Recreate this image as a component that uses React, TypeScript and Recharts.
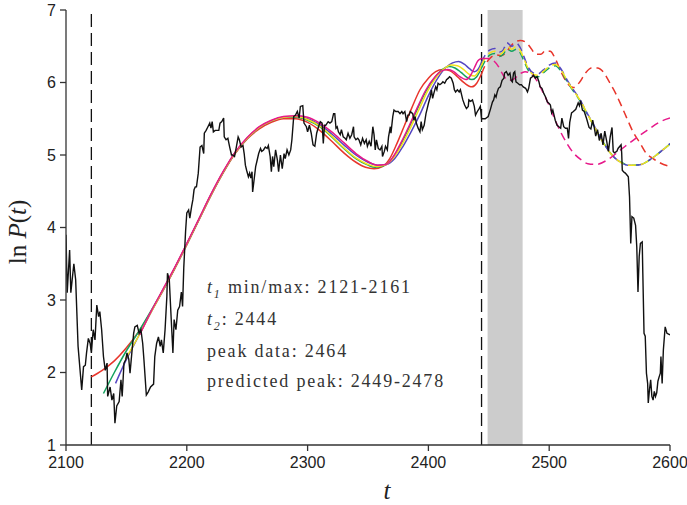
import React from 'react';
import { ComposedChart, Line, XAxis, YAxis, ReferenceLine, ReferenceArea } from 'recharts';

type Pt = [number, number];

const xTicks = [2100, 2200, 2300, 2400, 2500, 2600];
const yTicks = [1, 2, 3, 4, 5, 6, 7];
const t1Min = 2121;
const t2 = 2444;
const predictedPeak = [2449, 2478];

// ln P(t)
const priceData: Pt[] = [
  [2100, 3.9], [2101, 3.1], [2103, 3.69], [2104, 3.1], [2106.5, 3.5], [2108, 3.28], [2110, 2.36], [2113, 1.76],
  [2114.5, 2.08], [2116, 2.1], [2117, 2.27], [2118.5, 2.47], [2120, 2.4], [2121, 2.27], [2122.5, 2.59], [2124, 2.45],
  [2125.5, 2.93], [2127, 2.77], [2128, 2.84], [2129.5, 2.59], [2131, 2.22], [2132.5, 2.03], [2134, 2.13], [2134.5, 1.67],
  [2136.5, 1.8], [2138, 1.62], [2139.5, 1.71], [2140.5, 1.3], [2142, 1.54], [2144, 1.6], [2145.5, 1.9], [2146.5, 1.67],
  [2148, 2.13], [2149.5, 2.18], [2150.5, 2.27], [2152, 2.18], [2153, 1.99], [2154.5, 2.27], [2156, 2.54], [2157, 2.63],
  [2159, 2.65], [2160.5, 2.54], [2162, 2.59], [2163.5, 2.4], [2164.5, 2.18], [2166.5, 1.69], [2168, 1.73], [2170, 1.8],
  [2172.5, 1.84], [2173.5, 2.22], [2175, 2.4], [2176.5, 2.49], [2178, 2.36], [2179, 2.45], [2180.5, 2.27], [2182, 2.59],
  [2183.5, 3.05], [2184, 3.37], [2185.5, 3.28], [2187, 2.77], [2188.5, 2.27], [2189.5, 2.73], [2191, 2.59], [2192.5, 2.86],
  [2194, 2.91], [2195.5, 3.11], [2196.5, 2.91], [2197.5, 3.45], [2199, 3.95], [2200, 4.2], [2201.5, 4.24], [2202.5, 4.13],
  [2204, 4.29], [2205, 4.38], [2206, 4.52], [2207, 4.56], [2208, 4.56], [2209.5, 4.75], [2211, 5.11], [2212.5, 5.13],
  [2214, 5.02], [2214.5, 5.3], [2216, 5.34], [2217.5, 5.39], [2219, 5.44], [2220, 5.37], [2221, 5.46], [2222, 5.32],
  [2223.5, 5.34], [2225, 5.34], [2226.5, 5.34], [2227.5, 5.44], [2229, 5.46], [2230.5, 5.51], [2231, 5.25], [2232.5, 5.21],
  [2234, 5.23], [2235.5, 5.11], [2237, 5.0], [2238, 5.0], [2239.5, 4.98], [2241, 5.11], [2242.5, 5.25], [2243.5, 5.21],
  [2245, 5.11], [2246.5, 5.13], [2247.5, 5.02], [2248.5, 4.86], [2249.5, 4.79], [2251, 4.7], [2252, 4.75], [2253, 4.68],
  [2254, 4.77], [2254.5, 4.49], [2256, 4.7], [2257, 4.84], [2258, 4.91], [2259.5, 5.02], [2261, 5.09], [2262, 5.05],
  [2263.5, 5.07], [2265, 5.11], [2266.5, 5.09], [2267.5, 5.13], [2269, 4.98], [2270, 4.77], [2271, 4.98], [2272, 4.84],
  [2273.5, 5.07], [2275, 4.93], [2276, 4.77], [2277.5, 5.0], [2279, 4.81], [2280.5, 5.02], [2281.5, 4.95], [2283, 5.07],
  [2284.5, 5.0], [2286, 5.07], [2287, 5.21], [2288.5, 5.53], [2290, 5.55], [2291.5, 5.6], [2293, 5.51], [2294, 5.67],
  [2296, 5.68], [2297, 5.44], [2299, 5.39], [2300, 5.32], [2301.5, 5.41], [2303, 5.3], [2304.5, 5.14], [2306, 5.12],
  [2307.5, 5.3], [2309, 5.39], [2310.5, 5.46], [2312, 5.44], [2313, 5.16], [2314, 5.41], [2315, 5.41], [2317, 5.46],
  [2318.5, 5.44], [2320, 5.46], [2321.5, 5.57], [2322.5, 5.57], [2323.5, 5.37], [2324.5, 5.39], [2325.5, 5.32], [2327, 5.28],
  [2328, 5.35], [2329.5, 5.25], [2331, 5.23], [2332, 5.21], [2333.5, 5.3], [2335, 5.23], [2336.5, 5.28], [2338, 5.39],
  [2338.5, 5.25], [2340, 5.21], [2341.5, 5.23], [2342.5, 5.21], [2344, 5.14], [2345.5, 5.23], [2347, 5.16], [2348.5, 5.21],
  [2349.5, 5.12], [2351, 5.19], [2352.5, 5.12], [2354, 5.39], [2355, 5.28], [2356, 5.07], [2357, 5.21], [2358.5, 5.09],
  [2360, 5.07], [2361.5, 5.12], [2362, 4.98], [2363.5, 5.05], [2364.5, 5.12], [2366, 5.07], [2367, 5.25], [2368.5, 5.39],
  [2369, 5.3], [2370.5, 5.53], [2371.5, 5.62], [2373, 5.6], [2375, 5.6], [2376.5, 5.57], [2378, 5.6], [2379, 5.57],
  [2380.5, 5.6], [2382, 5.46], [2383, 5.55], [2384, 5.55], [2385, 5.6], [2387, 5.57], [2388, 5.48], [2389, 5.53],
  [2390, 5.44], [2391.5, 5.37], [2393, 5.32], [2394, 5.46], [2395, 5.35], [2396.5, 5.41], [2398, 5.57], [2399, 5.64],
  [2400, 5.71], [2401.5, 5.8], [2402.5, 5.9], [2403.5, 5.78], [2404.5, 5.85], [2406, 5.94], [2407, 5.9], [2408, 5.99],
  [2409.5, 5.97], [2411, 5.99], [2412, 6.01], [2413.5, 5.99], [2415, 6.04], [2416.5, 6.06], [2417.5, 6.08], [2419, 6.06],
  [2420.5, 5.99], [2421.5, 5.9], [2422.5, 5.87], [2424, 5.9], [2425.5, 5.87], [2426.5, 5.9], [2427.5, 5.83], [2428.5, 5.76],
  [2430, 5.69], [2431.5, 5.64], [2433, 5.67], [2433.5, 5.76], [2435, 5.74], [2436.5, 5.76], [2438, 5.67], [2439, 5.55],
  [2440.5, 5.6], [2442, 5.64], [2443, 5.67], [2444, 5.5], [2447, 5.5], [2449.5, 5.53], [2451.5, 5.64], [2453, 5.73],
  [2454, 5.76], [2455, 5.83], [2456, 5.8], [2457, 5.87], [2458, 5.92], [2459.5, 5.94], [2461, 6.03], [2462.5, 6.06],
  [2463, 6.13], [2464.5, 6.15], [2466, 6.1], [2467.5, 6.13], [2468.5, 6.03], [2469.5, 6.01], [2470.5, 6.13], [2471.5, 6.15],
  [2472.5, 6.01], [2474, 5.99], [2475.5, 5.97], [2477, 5.97], [2478.5, 5.94], [2480.5, 5.92], [2482, 5.87], [2483, 5.92],
  [2484.5, 6.06], [2486, 6.08], [2487, 6.1], [2488.5, 6.06], [2490, 6.08], [2491.5, 6.01], [2492.5, 5.94], [2494, 5.92],
  [2495.5, 5.85], [2497, 5.8], [2498.5, 5.73], [2500, 5.71], [2501, 5.69], [2502, 5.58], [2503, 5.62], [2504, 5.55],
  [2505, 5.48], [2506.5, 5.41], [2508, 5.39], [2509.5, 5.37], [2510.5, 5.51], [2512, 5.39], [2513.5, 5.37], [2515, 5.37],
  [2516, 5.23], [2517, 5.45], [2518.5, 5.58], [2520, 5.6], [2522, 5.63], [2524, 5.72], [2525, 5.68], [2526, 5.75],
  [2527.5, 5.62], [2529, 5.6], [2531, 5.5], [2533, 5.38], [2534.5, 5.36], [2536, 5.48], [2537.5, 5.36], [2538.5, 5.26],
  [2540, 5.35], [2541.5, 5.2], [2543, 5.3], [2544.5, 5.14], [2546, 5.33], [2547.5, 5.2], [2549, 5.05], [2550.5, 5.25],
  [2552, 5.38], [2553, 5.05], [2554, 5.03], [2556, 5.05], [2557, 5.09], [2558.5, 5.12], [2559.5, 5.14], [2560, 5.03],
  [2560.5, 4.79], [2561.5, 4.77], [2563, 4.75], [2564.5, 4.72], [2565.5, 4.7], [2566.5, 4.42], [2567.5, 3.78], [2568.5, 4.15],
  [2570, 4.13], [2571.5, 4.03], [2572.5, 3.73], [2573.5, 3.11], [2574.5, 3.6], [2575.5, 3.78], [2577, 3.8], [2577.5, 3.37],
  [2578.5, 2.54], [2579.5, 2.5], [2580.5, 1.99], [2581.5, 1.85], [2582, 1.58], [2583, 1.76], [2584, 1.9], [2585, 1.67],
  [2586, 1.62], [2587, 1.74], [2588, 1.67], [2589, 1.72], [2590, 1.88], [2591, 1.94], [2592, 1.99], [2592.5, 2.22],
  [2593.5, 1.85], [2594.5, 2.31], [2596, 2.63], [2597.5, 2.54], [2600, 2.52],
];

// fitted curves, one per t1 (2121 ... 2161)
const fitRed: Pt[] = [
  [2121, 1.94], [2130, 2.03], [2140, 2.16], [2150, 2.34], [2160, 2.56], [2170, 2.83], [2180, 3.12], [2190, 3.43],
  [2200, 3.76], [2210, 4.1], [2220, 4.44], [2230, 4.75], [2240, 5.02], [2250, 5.22], [2260, 5.36], [2270, 5.45],
  [2280, 5.5], [2290, 5.5], [2300, 5.45], [2310, 5.34], [2320, 5.19], [2330, 5.03], [2340, 4.9], [2348, 4.83],
  [2355, 4.81], [2362, 4.84], [2368, 4.95], [2374, 5.16], [2380, 5.4], [2386, 5.64], [2393, 5.9], [2400, 6.06],
  [2406, 6.15], [2412, 6.18], [2418, 6.16], [2424, 6.08], [2430, 5.99], [2436, 5.94], [2440, 5.99], [2444, 6.12],
  [2448, 6.27], [2452, 6.35], [2456, 6.38], [2460, 6.37], [2464, 6.41], [2468, 6.5], [2472, 6.56], [2476, 6.58],
  [2481, 6.55], [2485, 6.47], [2489, 6.39], [2493, 6.39], [2497, 6.44], [2501, 6.43], [2505, 6.33], [2510, 6.14],
  [2515, 5.99], [2520, 5.93], [2525, 6.0], [2530, 6.13], [2535, 6.2], [2540, 6.2], [2545, 6.14], [2550, 6.0],
  [2555, 5.85], [2560, 5.67], [2565, 5.48], [2570, 5.3], [2575, 5.17], [2580, 5.03], [2586, 4.95], [2592, 4.89],
  [2600, 4.84],
];

const fitGreen: Pt[] = [
  [2131, 1.71], [2140, 2.0], [2150, 2.3], [2160, 2.56], [2170, 2.84], [2180, 3.13], [2190, 3.44], [2200, 3.77],
  [2210, 4.11], [2220, 4.45], [2230, 4.76], [2240, 5.03], [2250, 5.23], [2260, 5.38], [2270, 5.47], [2280, 5.52],
  [2290, 5.52], [2300, 5.48], [2310, 5.39], [2320, 5.25], [2330, 5.09], [2340, 4.95], [2350, 4.86], [2356, 4.83],
  [2363, 4.85], [2370, 4.95], [2377, 5.14], [2384, 5.38], [2391, 5.64], [2398, 5.88], [2405, 6.06], [2411, 6.17],
  [2417, 6.22], [2422, 6.2], [2427, 6.14], [2432, 6.07], [2436, 6.04], [2440, 6.08], [2444, 6.2], [2447, 6.3],
  [2451, 6.38], [2455, 6.4], [2459, 6.36], [2462, 6.39], [2465, 6.46], [2469, 6.43], [2473, 6.46], [2476, 6.41],
  [2479, 6.3], [2483, 6.16], [2487, 6.09], [2491, 6.08], [2495, 6.13], [2500, 6.2], [2505, 6.23], [2510, 6.15],
  [2515, 6.01], [2520, 5.88], [2525, 5.76], [2530, 5.61], [2535, 5.46], [2540, 5.31], [2545, 5.17], [2550, 5.04],
  [2555, 4.95], [2560, 4.9], [2565, 4.86], [2570, 4.86], [2576, 4.87], [2582, 4.92], [2588, 4.99], [2594, 5.07],
  [2600, 5.15],
];

const fitBlue: Pt[] = [
  [2141, 1.85], [2150, 2.18], [2160, 2.5], [2170, 2.82], [2180, 3.13], [2190, 3.44], [2200, 3.77], [2210, 4.11],
  [2220, 4.45], [2230, 4.76], [2240, 5.03], [2250, 5.23], [2260, 5.38], [2270, 5.47], [2280, 5.52], [2290, 5.53],
  [2300, 5.5], [2310, 5.42], [2320, 5.29], [2330, 5.14], [2340, 5.0], [2350, 4.9], [2358, 4.86], [2365, 4.87],
  [2372, 4.95], [2379, 5.12], [2386, 5.33], [2393, 5.56], [2400, 5.82], [2407, 6.04], [2414, 6.2], [2420, 6.27],
  [2425, 6.29], [2430, 6.25], [2434, 6.19], [2438, 6.15], [2441, 6.18], [2444, 6.28], [2447, 6.38], [2451, 6.45],
  [2455, 6.47], [2459, 6.42], [2462, 6.45], [2465, 6.55], [2469, 6.5], [2473, 6.54], [2476, 6.48], [2479, 6.36],
  [2483, 6.2], [2487, 6.13], [2491, 6.12], [2495, 6.17], [2500, 6.24], [2505, 6.27], [2510, 6.18], [2515, 6.03],
  [2520, 5.9], [2525, 5.78], [2530, 5.62], [2535, 5.47], [2540, 5.32], [2545, 5.17], [2550, 5.04], [2555, 4.95],
  [2560, 4.89], [2565, 4.86], [2570, 4.86], [2576, 4.87], [2582, 4.92], [2588, 4.99], [2594, 5.07], [2600, 5.16],
];

const fitYellow: Pt[] = [
  [2149, 2.18], [2160, 2.5], [2170, 2.82], [2180, 3.13], [2190, 3.44], [2200, 3.77], [2210, 4.11], [2220, 4.45],
  [2230, 4.76], [2240, 5.03], [2250, 5.23], [2260, 5.38], [2270, 5.47], [2280, 5.52], [2290, 5.53], [2300, 5.49],
  [2310, 5.4], [2320, 5.26], [2330, 5.1], [2340, 4.96], [2350, 4.87], [2357, 4.84], [2364, 4.86], [2371, 4.96],
  [2378, 5.14], [2385, 5.37], [2392, 5.62], [2399, 5.87], [2406, 6.06], [2413, 6.19], [2419, 6.24], [2424, 6.23],
  [2429, 6.18], [2434, 6.11], [2438, 6.09], [2441, 6.14], [2444, 6.24], [2447, 6.34], [2451, 6.41], [2455, 6.43],
  [2459, 6.39], [2462, 6.42], [2465, 6.5], [2469, 6.46], [2473, 6.5], [2476, 6.44], [2479, 6.33], [2483, 6.18],
  [2487, 6.11], [2491, 6.1], [2495, 6.15], [2500, 6.22], [2505, 6.25], [2510, 6.17], [2515, 6.02], [2520, 5.89],
  [2525, 5.77], [2530, 5.62], [2535, 5.46], [2540, 5.31], [2545, 5.16], [2550, 5.04], [2555, 4.95], [2560, 4.89],
  [2565, 4.86], [2570, 4.86], [2576, 4.87], [2582, 4.92], [2588, 4.99], [2594, 5.07], [2600, 5.15],
];

const fitMagenta: Pt[] = [
  [2161, 2.52], [2170, 2.83], [2180, 3.14], [2190, 3.45], [2200, 3.78], [2210, 4.12], [2220, 4.46], [2230, 4.77],
  [2240, 5.04], [2250, 5.24], [2260, 5.39], [2270, 5.48], [2280, 5.53], [2290, 5.54], [2300, 5.52], [2310, 5.44],
  [2320, 5.32], [2330, 5.17], [2340, 5.02], [2350, 4.91], [2358, 4.86], [2365, 4.87], [2371, 4.98], [2377, 5.16],
  [2384, 5.4], [2391, 5.66], [2398, 5.9], [2405, 6.07], [2411, 6.16], [2416, 6.18], [2421, 6.15], [2426, 6.08],
  [2431, 6.04], [2435, 6.1], [2438, 6.2], [2441, 6.3], [2444, 6.33], [2449, 6.33], [2454, 6.3], [2458, 6.22],
  [2462, 6.1], [2466, 6.03], [2470, 6.04], [2475, 6.11], [2480, 6.15], [2485, 6.12], [2490, 6.02], [2495, 5.86],
  [2500, 5.68], [2505, 5.48], [2510, 5.3], [2515, 5.15], [2520, 5.03], [2526, 4.94], [2532, 4.88], [2539, 4.87],
  [2548, 4.93], [2559, 5.07], [2570, 5.21], [2581, 5.34], [2592, 5.46], [2600, 5.51],
];

const fits = [
  { name: 'red', color: '#e8352b', pts: fitRed },
  { name: 'green', color: '#14a25e', pts: fitGreen },
  { name: 'blue', color: '#5546c2', pts: fitBlue },
  { name: 'yellow', color: '#f1e21c', pts: fitYellow },
  { name: 'magenta', color: '#e6198a', pts: fitMagenta },
];

const toRows = (pts: Pt[]) => pts.map(([t, v]) => ({ t, v }));

const axisFont = { fontFamily: 'Liberation Sans, Arial, sans-serif', fontSize: 16, fill: '#222' };
const serif = 'Liberation Serif, Times New Roman, serif';

export default function App() {
  return (
    <div style={{ position: 'absolute', left: 0, top: 0, width: 687, height: 505, background: '#fff' }}>
      <ComposedChart width={687} height={505} margin={{ top: 10, right: 17, bottom: 30, left: 20 }}>
        <XAxis
          dataKey="t"
          type="number"
          domain={[2100, 2600]}
          ticks={xTicks}
          height={30}
          tick={axisFont}
          tickSize={6}
          tickMargin={6}
          stroke="#333"
          strokeWidth={1.3}
          allowDataOverflow
        />
        <YAxis
          type="number"
          domain={[1, 7]}
          ticks={yTicks}
          width={46}
          tick={axisFont}
          tickSize={6}
          tickMargin={4}
          stroke="#333"
          strokeWidth={1.3}
          allowDataOverflow
        />
        <ReferenceArea x1={predictedPeak[0]} x2={predictedPeak[1]} y1={1} y2={7} fill="#cccccc" fillOpacity={1} stroke="none" />
        <ReferenceLine x={t1Min} stroke="#111" strokeWidth={1.3} strokeDasharray="13 6" />
        <ReferenceLine x={t2} stroke="#111" strokeWidth={1.3} strokeDasharray="13 6" />
        {fits.map(f => (
          <Line
            key={f.name + '-solid'}
            data={toRows(f.pts.filter(([t]) => t <= t2))}
            dataKey="v"
            type="monotone"
            stroke={f.color}
            strokeWidth={1.5}
            dot={false}
            isAnimationActive={false}
          />
        ))}
        {fits.map(f => (
          <Line
            key={f.name + '-dash'}
            data={toRows(f.pts.filter(([t]) => t >= t2))}
            dataKey="v"
            type="monotone"
            stroke={f.color}
            strokeWidth={1.5}
            strokeDasharray="8 5"
            dot={false}
            isAnimationActive={false}
          />
        ))}
        <Line
          data={toRows(priceData)}
          dataKey="v"
          type="linear"
          stroke="#111"
          strokeWidth={1.4}
          dot={false}
          isAnimationActive={false}
        />
      </ComposedChart>
      <svg width={687} height={505} style={{ position: 'absolute', left: 0, top: 0, pointerEvents: 'none' }}>
        <text transform="translate(26,232) rotate(-90)" textAnchor="middle" fontFamily={serif} fontSize={25} fill="#222">
          ln <tspan fontStyle="italic">P</tspan>(<tspan fontStyle="italic">t</tspan>)
        </text>
        <text x={387} y={499} textAnchor="middle" fontFamily={serif} fontSize={25} fontStyle="italic" fill="#222">t</text>
        <g fontFamily={serif} fontSize={18} fill="#333" style={{ letterSpacing: '1.8px' }}>
          <text x={207} y={293}>
            <tspan fontStyle="italic">t</tspan>
            <tspan fontStyle="italic" fontSize={12} dy={5}>1</tspan>
            <tspan dy={-5}> min/max: 2121-2161</tspan>
          </text>
          <text x={207} y={325}>
            <tspan fontStyle="italic">t</tspan>
            <tspan fontStyle="italic" fontSize={12} dy={5}>2</tspan>
            <tspan dy={-5}>: 2444</tspan>
          </text>
          <text x={207} y={357}>peak data: 2464</text>
          <text x={207} y={387}>predicted peak: 2449-2478</text>
        </g>
      </svg>
    </div>
  );
}
